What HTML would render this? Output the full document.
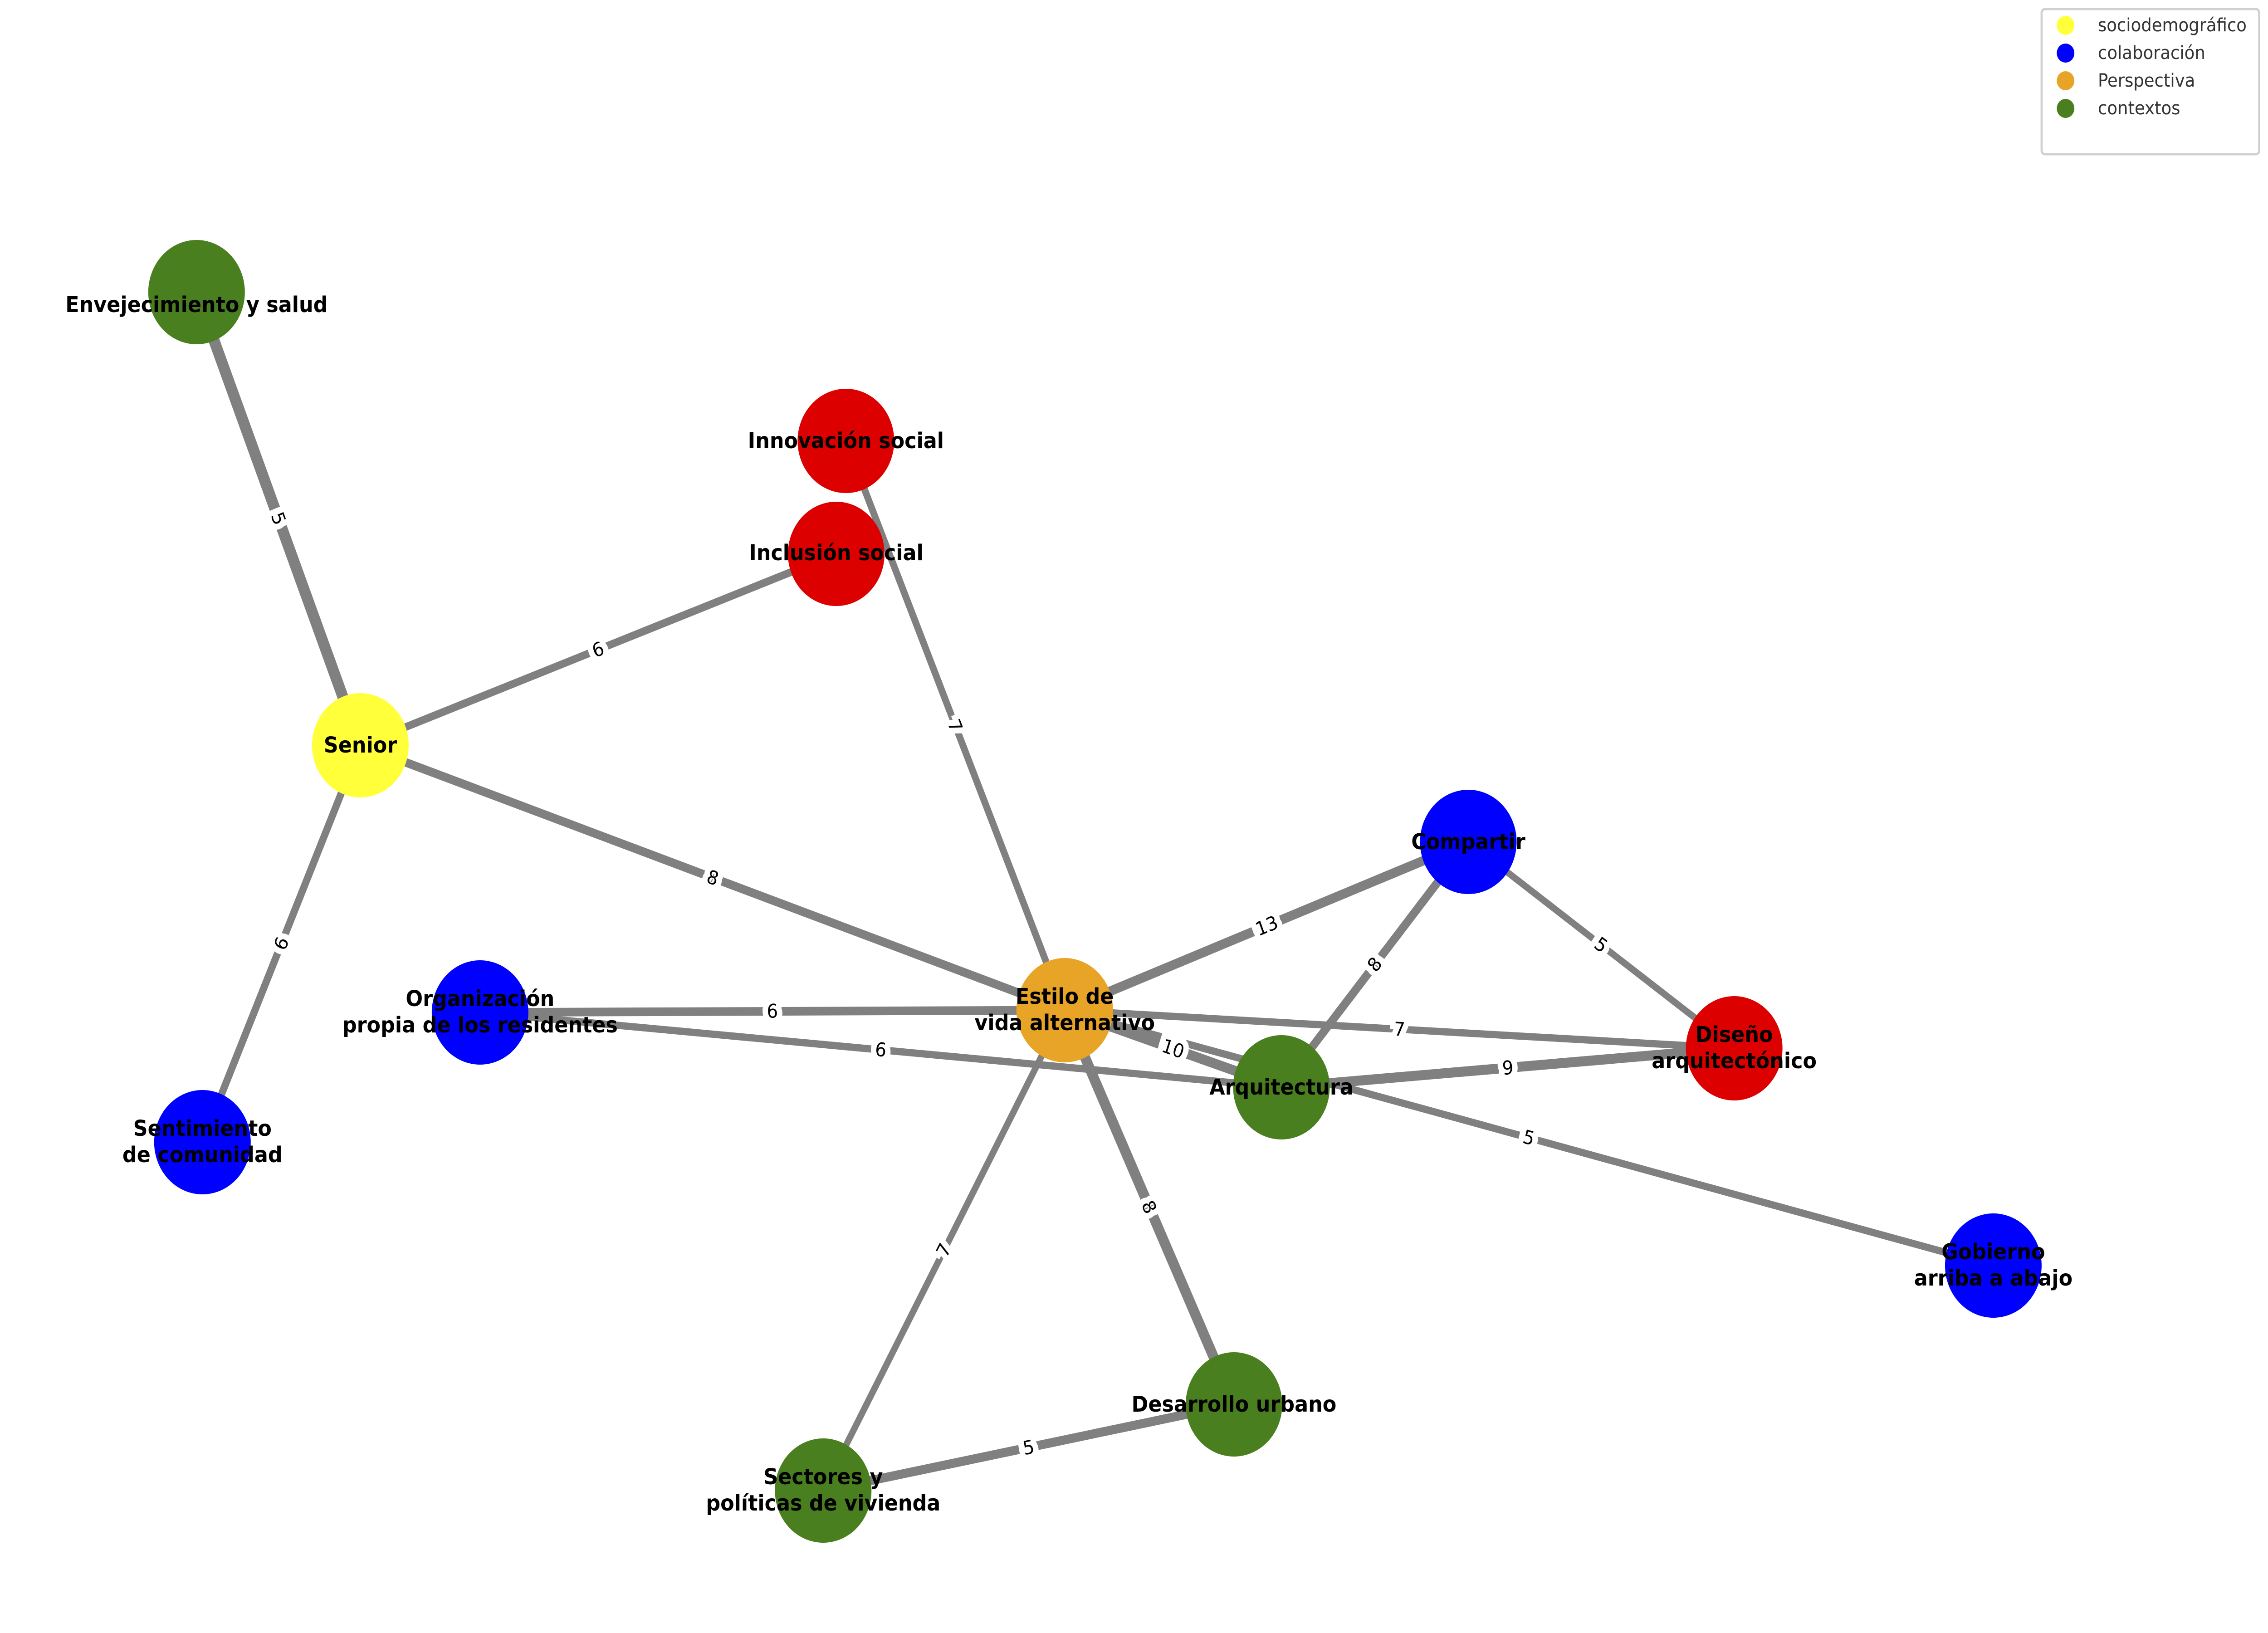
<!DOCTYPE html>
<html><head><meta charset="utf-8"><style>html,body{margin:0;padding:0;background:#fff;width:100%;height:100%;overflow:hidden}svg{display:block;position:absolute;left:0;top:0;width:100vw;height:100vh}</style></head>
<body>
<svg viewBox="0 0 5400 3600" preserveAspectRatio="none" xmlns="http://www.w3.org/2000/svg">
<rect width="5400" height="3600" fill="#fff"/>
<g stroke="#808080" stroke-linecap="butt">
<line x1="468" y1="644" x2="858" y2="1643" stroke-width="26"/>
<line x1="858" y1="1643" x2="1991" y2="1221" stroke-width="17"/>
<line x1="858" y1="1643" x2="2535" y2="2227" stroke-width="19"/>
<line x1="858" y1="1643" x2="482" y2="2518" stroke-width="17"/>
<line x1="2014" y1="972" x2="2535" y2="2227" stroke-width="16"/>
<line x1="2535" y1="2227" x2="3496" y2="1856" stroke-width="21"/>
<line x1="2535" y1="2227" x2="1143" y2="2232" stroke-width="19"/>
<line x1="2535" y1="2227" x2="4129" y2="2311" stroke-width="16"/>
<line x1="2535" y1="2227" x2="3051" y2="2397" stroke-width="22"/>
<line x1="2535" y1="2227" x2="2938" y2="3096" stroke-width="24"/>
<line x1="2535" y1="2227" x2="1960" y2="3286" stroke-width="15"/>
<line x1="1143" y1="2232" x2="3051" y2="2397" stroke-width="16"/>
<line x1="3496" y1="1856" x2="3051" y2="2397" stroke-width="19"/>
<line x1="3496" y1="1856" x2="4129" y2="2311" stroke-width="15"/>
<line x1="3051" y1="2397" x2="4129" y2="2311" stroke-width="22"/>
<line x1="2535" y1="2227" x2="4746" y2="2790" stroke-width="16"/>
<line x1="2938" y1="3096" x2="1960" y2="3286" stroke-width="20"/>
</g>
<g>
<circle cx="468" cy="644" r="115" fill="#4A7F1F"/>
<circle cx="2014" cy="972" r="115" fill="#DC0000"/>
<circle cx="1991" cy="1221" r="115" fill="#DC0000"/>
<circle cx="858" cy="1643" r="115" fill="#FFFF3A"/>
<circle cx="3496" cy="1856" r="115" fill="#0000FF"/>
<circle cx="1143" cy="2232" r="115" fill="#0000FF"/>
<circle cx="2535" cy="2227" r="115" fill="#E8A427"/>
<circle cx="4129" cy="2311" r="115" fill="#DC0000"/>
<circle cx="3051" cy="2397" r="115" fill="#4A7F1F"/>
<circle cx="482" cy="2518" r="115" fill="#0000FF"/>
<circle cx="4746" cy="2790" r="115" fill="#0000FF"/>
<circle cx="2938" cy="3096" r="115" fill="#4A7F1F"/>
<circle cx="1960" cy="3286" r="115" fill="#4A7F1F"/>
</g>
<g font-family="DejaVu Sans, Liberation Sans, sans-serif" font-size="42" fill="#000" text-anchor="middle" dominant-baseline="central" stroke="#fff" stroke-width="26" stroke-linejoin="miter" paint-order="stroke">
<text transform="translate(663,1143) rotate(68.7)">5</text>
<text transform="translate(1424,1432) rotate(-20.6)">6</text>
<text transform="translate(1697,1935) rotate(19.1)">8</text>
<text transform="translate(670,2080) rotate(-66.7)">6</text>
<text transform="translate(2274,1600) rotate(67.3)">7</text>
<text transform="translate(3016,2041) rotate(-21.0)">13</text>
<text transform="translate(1839,2229) rotate(-0.3)">6</text>
<text transform="translate(3332,2269) rotate(3.1)">7</text>
<text transform="translate(2793,2312) rotate(18.4)">10</text>
<text transform="translate(2736,2661) rotate(65.2)">8</text>
<text transform="translate(2247,2756) rotate(-61.5)">7</text>
<text transform="translate(2097,2314) rotate(4.9)">6</text>
<text transform="translate(3273,2126) rotate(-50.6)">8</text>
<text transform="translate(3812,2083) rotate(35.7)">5</text>
<text transform="translate(3590,2354) rotate(-4.6)">9</text>
<text transform="translate(3640,2508) rotate(14.3)">5</text>
<text transform="translate(2449,3191) rotate(-11.0)">5</text>
</g>
<g font-family="DejaVu Sans, Liberation Sans, sans-serif" font-size="48" font-weight="bold" fill="#000" text-anchor="middle">
<text x="468" y="688">Envejecimiento y salud</text>
<text x="2014" y="988">Innovación social</text>
<text x="1991" y="1235">Inclusión social</text>
<text x="858" y="1659">Senior</text>
<text x="3496" y="1872">Compartir</text>
<text x="1143" y="2218">Organización</text>
<text x="1143" y="2276">propia de los residentes</text>
<text x="2535" y="2213">Estilo de</text>
<text x="2535" y="2271">vida alternativo</text>
<text x="4129" y="2297">Diseño</text>
<text x="4129" y="2355">arquitectónico</text>
<text x="3051" y="2413">Arquitectura</text>
<text x="482" y="2504">Sentimiento</text>
<text x="482" y="2562">de comunidad</text>
<text x="4746" y="2776">Gobierno</text>
<text x="4746" y="2834">arriba a abajo</text>
<text x="2938" y="3112">Desarrollo urbano</text>
<text x="1960" y="3272">Sectores y</text>
<text x="1960" y="3330">políticas de vivienda</text>
</g>
<rect x="4861" y="20" width="518" height="320" rx="8" fill="#fff" stroke="#d0d0d0" stroke-width="5"/>
<circle cx="4918" cy="56" r="21" fill="#FFFF3A"/>
<circle cx="4918" cy="117" r="21" fill="#0000FF"/>
<circle cx="4918" cy="178" r="21" fill="#E8A427"/>
<circle cx="4918" cy="239" r="21" fill="#4A7F1F"/>
<g font-family="DejaVu Sans, Liberation Sans, sans-serif" font-size="40" fill="#333" dominant-baseline="central">
<text x="4995" y="56">sociodemográfico</text>
<text x="4995" y="117">colaboración</text>
<text x="4995" y="178">Perspectiva</text>
<text x="4995" y="239">contextos</text>
</g>
</svg>
</body></html>
